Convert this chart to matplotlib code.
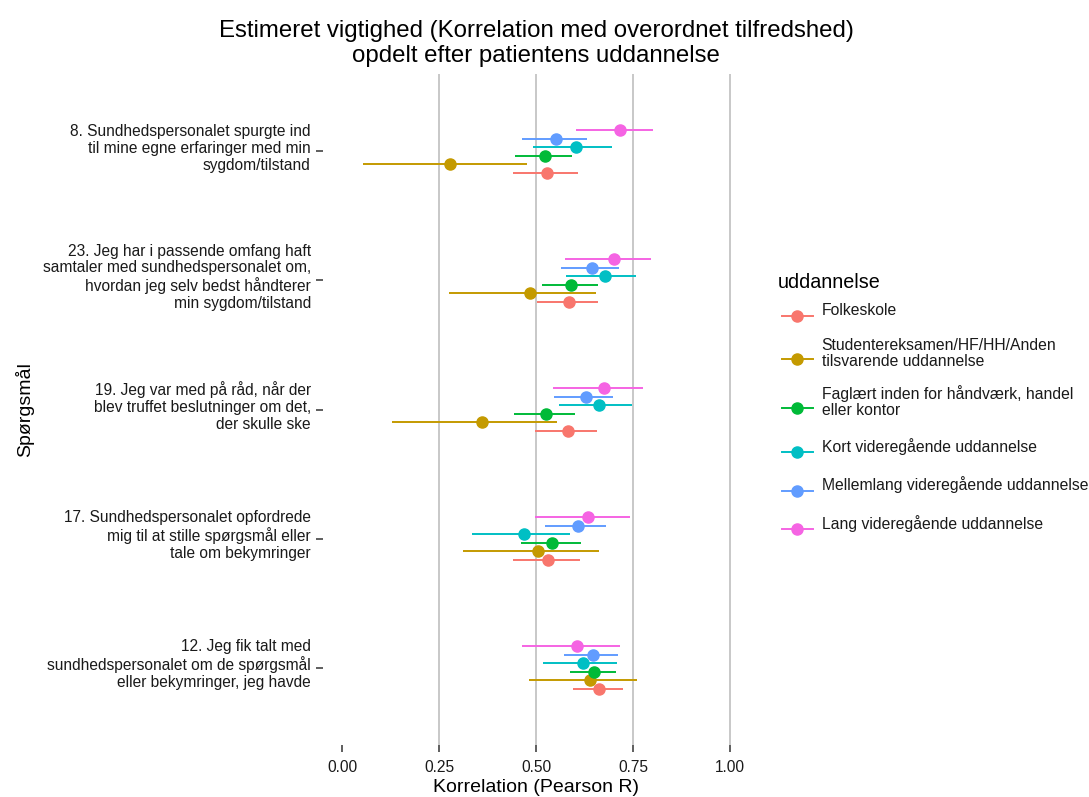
import matplotlib
matplotlib.use("Agg")
import matplotlib.pyplot as plt
import matplotlib.transforms as mtransforms
from matplotlib.lines import Line2D
import numpy as np

plt.rcParams["font.family"] = ["Liberation Sans", "DejaVu Sans"]

# Questions, listed bottom to top on the plot
questions = [
    "12. Jeg fik talt med\nsundhedspersonalet om de spørgsmål\neller bekymringer, jeg havde",
    "17. Sundhedspersonalet opfordrede\nmig til at stille spørgsmål eller\ntale om bekymringer",
    "19. Jeg var med på råd, når der\nblev truffet beslutninger om det,\nder skulle ske",
    "23. Jeg har i passende omfang haft\nsamtaler med sundhedspersonalet om,\nhvordan jeg selv bedst håndterer\nmin sygdom/tilstand",
    "8. Sundhedspersonalet spurgte ind\ntil mine egne erfaringer med min\nsygdom/tilstand",
]

levels = [
    "Folkeskole",
    "Studentereksamen/HF/HH/Anden\ntilsvarende uddannelse",
    "Faglært inden for håndværk, handel\neller kontor",
    "Kort videregående uddannelse",
    "Mellemlang videregående uddannelse",
    "Lang videregående uddannelse",
]
colors = ["#F8766D", "#C49A00", "#00BA38", "#00BFC4", "#619CFF", "#F564E3"]

# Correlation estimates and confidence limits, same question order as above
folkeskole_r  = [0.663, 0.532, 0.582, 0.586, 0.529]
folkeskole_lo = [0.595, 0.442, 0.497, 0.502, 0.442]
folkeskole_hi = [0.723, 0.613, 0.656, 0.659, 0.607]

student_r  = [0.639, 0.506, 0.360, 0.485, 0.278]
student_lo = [0.482, 0.311, 0.128, 0.276, 0.053]
student_hi = [0.760, 0.662, 0.555, 0.654, 0.478]

faglaert_r  = [0.650, 0.542, 0.526, 0.590, 0.523]
faglaert_lo = [0.588, 0.461, 0.443, 0.515, 0.446]
faglaert_hi = [0.706, 0.615, 0.601, 0.659, 0.592]

kort_r  = [0.622, 0.470, 0.663, 0.678, 0.603]
kort_lo = [0.517, 0.336, 0.558, 0.577, 0.493]
kort_hi = [0.708, 0.588, 0.748, 0.758, 0.695]

mellem_r  = [0.646, 0.607, 0.628, 0.645, 0.551]
mellem_lo = [0.572, 0.523, 0.546, 0.564, 0.463]
mellem_hi = [0.712, 0.680, 0.699, 0.714, 0.631]

lang_r  = [0.605, 0.635, 0.676, 0.701, 0.716]
lang_lo = [0.463, 0.497, 0.545, 0.575, 0.603]
lang_hi = [0.716, 0.742, 0.775, 0.796, 0.801]

estimates = [folkeskole_r, student_r, faglaert_r, kort_r, mellem_r, lang_r]
lower = [folkeskole_lo, student_lo, faglaert_lo, kort_lo, mellem_lo, lang_lo]
upper = [folkeskole_hi, student_hi, faglaert_hi, kort_hi, mellem_hi, lang_hi]

x_ticks = [0.0, 0.25, 0.5, 0.75, 1.0]
x_ticklabels = ["0.00", "0.25", "0.50", "0.75", "1.00"]

W, H = 1089, 797
fig = plt.figure(figsize=(W / 100, H / 100), dpi=100)
ax = fig.add_axes([322.6 / W, 1 - 745 / H, (749.4 - 322.6) / W, (745 - 74) / H])

ypos = np.arange(1, len(questions) + 1)
dodge = 0.066
n = len(levels)
LW, MS = 1.4, 8

# vertical grid lines
for gx in [0.25, 0.5, 0.75, 1.0]:
    ax.axvline(gx, color="#c8c8c8", lw=1.4, zorder=0)

for i, col in enumerate(colors):
    y = ypos + (i - (n - 1) / 2) * dodge
    ax.hlines(y, lower[i], upper[i], color=col, lw=LW, zorder=2 + i)
    ax.plot(estimates[i], y, "o", color=col, ms=MS, zorder=2 + i, mec=col)

ax.set_xlim(-0.05, 1.05)
ax.set_ylim(0.4, len(questions) + 0.6)
ax.set_xticks(x_ticks)
ax.set_xticklabels(x_ticklabels, fontsize=11.2, color="#1a1a1a")
ax.set_yticks(ypos)
ax.set_yticklabels(questions, fontsize=11.2, color="#1a1a1a", linespacing=1.15)
ax.tick_params(axis="both", length=5, width=1.1, color="#333333")
ax.tick_params(axis="x", pad=5.5)
ax.tick_params(axis="y", pad=3.5)
shift = mtransforms.ScaledTranslation(0, 5.5 / 100, fig.dpi_scale_trans)
for t in ax.get_yticklabels():
    t.set_transform(t.get_transform() + shift)
for s in ax.spines.values():
    s.set_visible(False)

ax.set_xlabel("Korrelation (Pearson R)", fontsize=14, labelpad=3)
fig.text(25 / W, 1 - 410 / H, "Spørgsmål", rotation=90, ha="center", va="center",
         fontsize=14)
ax.set_title("Estimeret vigtighed (Korrelation med overordnet tilfredshed)\n"
             "opdelt efter patientens uddannelse", fontsize=17.3, pad=9,
             linespacing=1.15)

# legend, laid out in pixel coordinates of the figure
def fy(py):
    return 1 - py / H

fig.text(778 / W, fy(288.3), "uddannelse", fontsize=14.2, ha="left", va="baseline")
key_y = 315.7
prev_h = None
for lab, col in zip(levels, colors):
    lines = lab.split("\n")
    h = 38.5 if len(lines) == 1 else 49
    if prev_h is not None:
        key_y += (prev_h + h) / 2
    prev_h = h
    fig.add_artist(Line2D([781.7 / W, 812.7 / W], [fy(key_y)] * 2, color=col,
                          lw=LW, transform=fig.transFigure))
    fig.add_artist(Line2D([797.2 / W], [fy(key_y)], marker="o", ms=MS, color=col,
                          transform=fig.transFigure))
    if len(lines) == 1:
        base = [key_y - 0.5]
    else:
        base = [key_y - 9.5, key_y + 7]
    for txt, b in zip(lines, base):
        fig.text(821.7 / W, fy(b), txt, fontsize=11.3, ha="left", va="baseline",
                 color="#1a1a1a")

fig.savefig("out.png", dpi=100, facecolor="white")
